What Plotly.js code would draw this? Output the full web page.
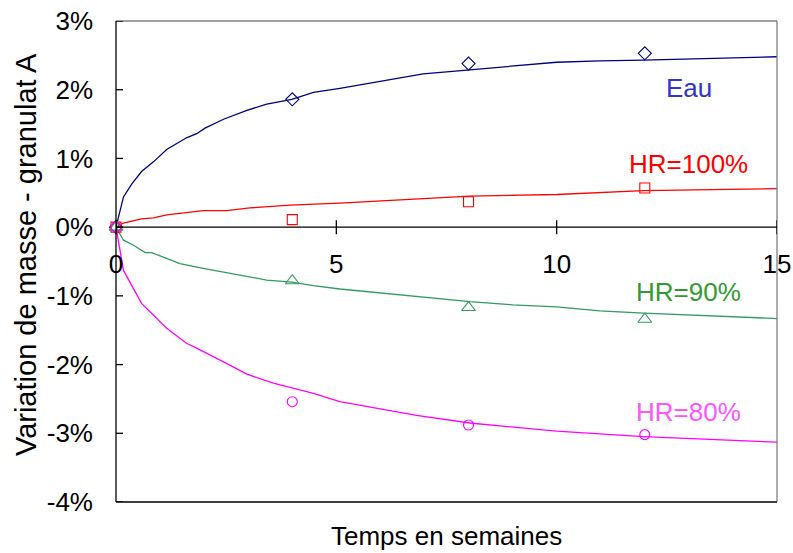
<!DOCTYPE html>
<html>
<head>
<meta charset="utf-8">
<script src="https://cdn.plot.ly/plotly-3.0.1.min.js"></script>
<style>html,body{margin:0;padding:0;background:#fff}#chart{width:793px;height:553px}</style>
</head>
<body>
<div id="chart"></div>
<script>
// Measured points (weeks, % mass variation)
const weeks = [0, 4, 8, 12];
const eauPts = [0, 1.86, 2.38, 2.53];
const hr100Pts = [0, 0.11, 0.37, 0.57];
const hr90Pts = [0, -0.78, -1.17, -1.34];
const hr80Pts = [0, -2.54, -2.88, -3.02];

// Model curves
const eauT = [0, 0.17, 0.36, 0.58, 0.85, 1.15, 1.6, 1.83, 2.02, 2.44, 2.97, 3.42, 3.99, 4.48, 5.08, 6.97, 8.03, 10.0, 10.98, 11.97, 15];
const eauV = [0, 0.44, 0.63, 0.81, 0.95, 1.13, 1.30, 1.36, 1.44, 1.57, 1.70, 1.79, 1.86, 1.96, 2.02, 2.23, 2.29, 2.40, 2.42, 2.43, 2.48];
const hr100T = [0, 0.17, 0.58, 0.85, 1.15, 1.6, 1.98, 2.51, 3.04, 3.95, 5.08, 8.03, 10.0, 11.97, 15];
const hr100V = [0, 0.06, 0.12, 0.135, 0.18, 0.21, 0.24, 0.24, 0.28, 0.32, 0.35, 0.45, 0.475, 0.53, 0.56];
const hr90T = [0, 0.17, 0.39, 0.66, 0.81, 1.0, 1.45, 1.98, 2.59, 3.42, 3.99, 4.48, 5.08, 8.03, 9.0, 10.0, 10.98, 11.97, 15];
const hr90V = [0, -0.19, -0.26, -0.37, -0.37, -0.42, -0.53, -0.60, -0.67, -0.77, -0.80, -0.85, -0.90, -1.085, -1.13, -1.16, -1.22, -1.25, -1.33];
const hr80T = [0, 0.17, 0.58, 1.15, 1.6, 1.83, 2.44, 2.97, 3.57, 3.99, 4.48, 5.08, 6.82, 8.03, 10.0, 10.98, 11.97, 15];
const hr80V = [0, -0.63, -1.11, -1.47, -1.69, -1.76, -1.96, -2.14, -2.27, -2.34, -2.42, -2.54, -2.74, -2.85, -2.97, -3.01, -3.05, -3.13];

const seriesNames = ['Eau', 'HR=100%', 'HR=90%', 'HR=80%'];
const labelWeek = 13;
const labelLevels = [2.02, 0.915, -0.95, -2.69];
const xTicks = [0, 5, 10, 15];
const yTicks = [-4, -3, -2, -1, 0, 1, 2, 3];

const cBlue = '#000080', cRed = '#FF0000', cGreen = '#339966', cMag = '#FF00FF';
const labelColors = ['#3333CC', '#FF0000', '#339933', '#FF55FF'];
const FONT = 'Liberation Sans, Arial, sans-serif';

function line(t, v, col) {
  return {x: t, y: v, type: 'scatter', mode: 'lines', line: {color: col, width: 1.3}, hoverinfo: 'skip', showlegend: false};
}
function pts(v, col, sym, sz) {
  return {x: weeks, y: v, type: 'scatter', mode: 'markers', cliponaxis: false,
    marker: {symbol: sym, size: sz, color: col, line: {color: col, width: 1.1}}, showlegend: false};
}

const data = [
  line(eauT, eauV, cBlue), line(hr100T, hr100V, cRed), line(hr90T, hr90V, cGreen), line(hr80T, hr80V, cMag),
  pts(eauPts, cBlue, 'diamond-open', 10), pts(hr100Pts, cRed, 'square-open', 10),
  pts(hr90Pts, cGreen, 'triangle-up-open', 12), pts(hr80Pts, cMag, 'circle-open', 10)
];

const shapes = [
  {type: 'line', xref: 'paper', yref: 'paper', x0: 0, x1: 1, y0: 1, y1: 1, line: {color: '#808080', width: 1.3}},
  {type: 'line', xref: 'paper', yref: 'paper', x0: 1, x1: 1, y0: 0, y1: 1, line: {color: '#808080', width: 1.3}},
  {type: 'line', xref: 'paper', yref: 'paper', x0: 0, x1: 1, y0: 0, y1: 0, line: {color: '#000', width: 1.3}},
  {type: 'line', xref: 'paper', yref: 'paper', x0: 0, x1: 0, y0: 0, y1: 1, line: {color: '#000', width: 1.3}},
  {type: 'line', xref: 'paper', yref: 'y', x0: 0, x1: 1, y0: 0, y1: 0, line: {color: '#000', width: 1.3}}
];
// crossing tick marks
xTicks.forEach(t => shapes.push({type: 'line', xref: 'x', yref: 'y', ysizemode: 'pixel', yanchor: 0,
  x0: t, x1: t, y0: -7, y1: 7, line: {color: '#000', width: 1.3}}));
yTicks.forEach(t => shapes.push({type: 'line', xref: 'x', yref: 'y', xsizemode: 'pixel', xanchor: 0,
  y0: t, y1: t, x0: -7, x1: 7, line: {color: '#000', width: 1.3}}));

const annotations = [
  {x: 0.5, y: -0.07, xref: 'paper', yref: 'paper', text: 'Temps en semaines', showarrow: false,
    yanchor: 'middle', font: {size: 26, family: FONT, color: '#000'}},
  {x: -0.135, y: 0.515, xref: 'paper', yref: 'paper', text: 'Variation de masse - granulat A', showarrow: false,
    textangle: -90, xanchor: 'center', yanchor: 'middle', font: {size: 29, family: FONT, color: '#000'}}
];
seriesNames.forEach((n, i) => annotations.push({x: labelWeek, y: labelLevels[i], text: n, showarrow: false,
  font: {size: 26, family: FONT, color: labelColors[i]}}));

const layout = {
  width: 793, height: 553,
  margin: {l: 116, r: 16, t: 21, b: 51, pad: 0},
  paper_bgcolor: '#fff', plot_bgcolor: '#fff',
  font: {family: FONT, size: 26, color: '#000'},
  showlegend: false,
  xaxis: {range: [0, 15], tickvals: xTicks, ticktext: xTicks.map(String), anchor: 'free', position: 4 / 7,
    showline: false, ticks: '', showgrid: false, zeroline: false, ticklabelstandoff: 19,
    tickfont: {size: 26, family: FONT}},
  yaxis: {range: [-4, 3], tickvals: yTicks, ticktext: yTicks.map(v => v + '%'), anchor: 'x',
    showline: false, ticks: '', showgrid: false, zeroline: false, ticklabelstandoff: 22,
    tickfont: {size: 26, family: FONT}},
  shapes: shapes,
  annotations: annotations
};

Plotly.newPlot('chart', data, layout, {staticPlot: true, displayModeBar: false});
</script>
</body>
</html>
